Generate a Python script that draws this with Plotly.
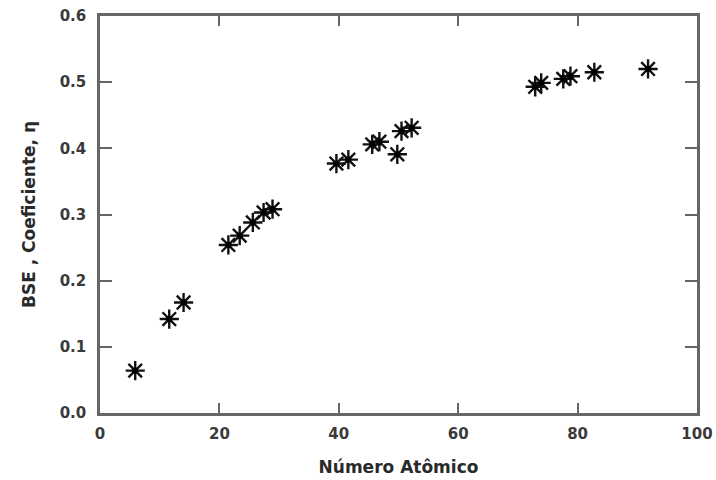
import plotly.graph_objects as go

# Atomic number vs backscattered electron coefficient
atomic_number = [5.9, 11.6, 14.0, 21.5, 23.4, 25.6, 27.4, 28.9,
                 39.6, 41.6, 45.6, 46.8, 49.8, 50.5, 52.2,
                 72.9, 73.9, 77.6, 78.8, 82.8, 91.8]
bse_coef = [0.064, 0.142, 0.167, 0.254, 0.268, 0.288, 0.303, 0.308,
            0.377, 0.383, 0.406, 0.410, 0.391, 0.426, 0.431,
            0.493, 0.499, 0.505, 0.509, 0.515, 0.520]

x_ticks = [0, 20, 40, 60, 80, 100]
y_ticks = [0.0, 0.1, 0.2, 0.3, 0.4, 0.5, 0.6]
y_tick_labels = ["0.0", "0.1", "0.2", "0.3", "0.4", "0.5", "0.6"]

fig = go.Figure()
fig.add_trace(go.Scatter(
    x=atomic_number, y=bse_coef, mode="markers",
    marker=dict(symbol="asterisk-open", size=16, color="#111111",
                line=dict(color="#222222", width=2.4)),
    showlegend=False, hoverinfo="x+y"))
fig.add_trace(go.Scatter(
    x=atomic_number, y=bse_coef, mode="markers",
    marker=dict(symbol="circle", size=6, color="#000000"),
    showlegend=False, hoverinfo="skip"))

tickfont = dict(family="DejaVu Sans", size=15, color="#3a3a3a", weight="bold")
titlefont = dict(family="DejaVu Sans", size=17, color="#2a2a2a", weight="bold")

fig.update_layout(
    width=716, height=480,
    margin=dict(l=100, r=19, t=16, b=67),
    paper_bgcolor="white", plot_bgcolor="white",
    xaxis=dict(range=[0, 100], tickvals=x_ticks, ticks="inside", ticklen=10,
               tickwidth=2, tickcolor="#666666", showline=True, linewidth=2.5,
               linecolor="#666666", mirror="ticks", showgrid=False, zeroline=False,
               tickfont=tickfont, ticklabelstandoff=5, automargin=False,
               title=dict(text="Número Atômico", font=titlefont, standoff=20)),
    yaxis=dict(range=[0, 0.6], tickvals=y_ticks, ticktext=y_tick_labels,
               ticks="inside", ticklen=12, tickwidth=2, tickcolor="#666666",
               showline=True, linewidth=2.5, linecolor="#666666", mirror="ticks",
               showgrid=False, zeroline=False, tickfont=tickfont,
               ticklabelstandoff=8, automargin=False,
               title=dict(text="BSE , Coeficiente, η", font=titlefont, standoff=20)),
)

fig.write_html("out.html", config={"displayModeBar": False},
               post_script="document.body.style.margin='0px';document.body.style.padding='0px';")
